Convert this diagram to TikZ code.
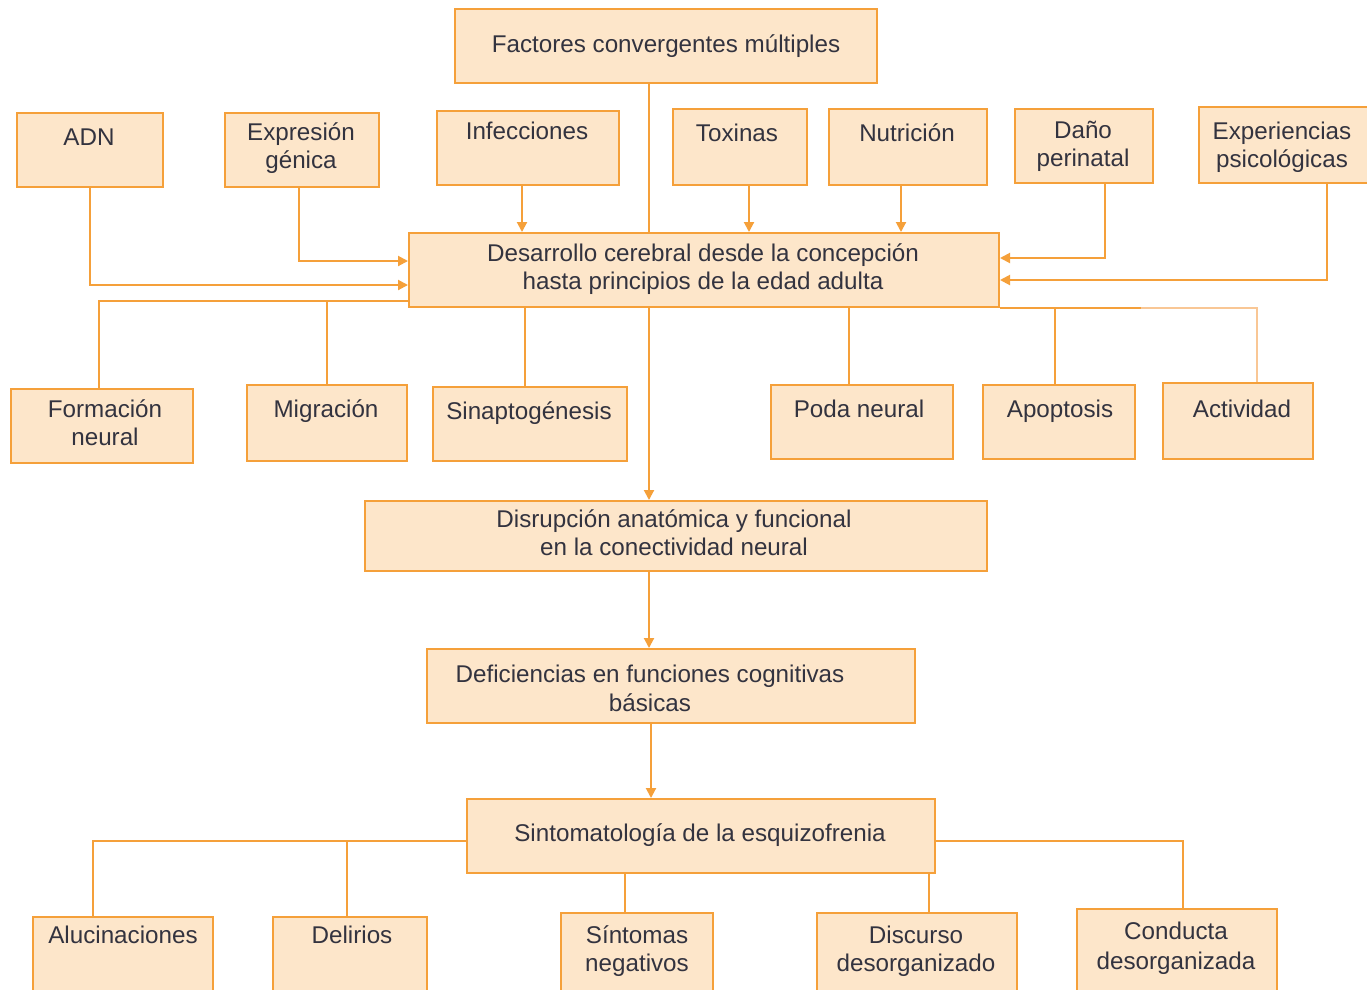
\documentclass[tikz,border=0pt]{standalone}
\usepackage{fontspec}
\setmainfont{Liberation Sans}
\usetikzlibrary{arrows.meta,fit}

\definecolor{boxfill}{HTML}{FDE6CA}
\definecolor{boxline}{HTML}{F5A03A}
\definecolor{fadeline}{HTML}{F9C795}
\definecolor{txtc}{HTML}{33333F}

\newcommand{\lblfont}{\fontsize{24.2}{28}\selectfont}

\tikzset{
  box/.style={draw=boxline, fill=boxfill, line width=2pt, inner sep=0pt, rectangle},
  lbl/.style={anchor=base, inner sep=0pt, text=txtc, font=\lblfont},
  conn/.style={draw=boxline, line width=2pt},
  arr/.style={conn, -{Triangle[length=10pt,width=10pt]}},
  faded/.style={draw=fadeline, line width=2pt},
}

\begin{document}
\begin{tikzpicture}[x=1pt,y=-1pt]
\useasboundingbox (0,0) rectangle (1367,989);
\clip (0,0) rectangle (1367,989);
\fill[white] (0,0) rectangle (1367,989);

% ---- boxes ----
\node[box, fit={(455,9) (877,83)}] (fact) {};
\node[box, fit={(17,113) (163,187)}] (adn) {};
\node[box, fit={(225,113) (379,187)}] (expr) {};
\node[box, fit={(437,111) (619,185)}] (inf) {};
\node[box, fit={(673,109) (807,185)}] (tox) {};
\node[box, fit={(829,109) (987,185)}] (nut) {};
\node[box, fit={(1015,109) (1153,183)}] (dano) {};
\node[box, fit={(1199,107) (1385,183)}] (expp) {};
\node[box, fit={(409,233) (999,307)}] (des) {};
\node[box, fit={(11,389) (193,463)}] (form) {};
\node[box, fit={(247,385) (407,461)}] (mig) {};
\node[box, fit={(433,387) (627,461)}] (sin) {};
\node[box, fit={(771,385) (953,459)}] (poda) {};
\node[box, fit={(983,385) (1135,459)}] (apo) {};
\node[box, fit={(1163,383) (1313,459)}] (act) {};
\node[box, fit={(365,501) (987,571)}] (dis) {};
\node[box, fit={(427,649) (915,723)}] (def) {};
\node[box, fit={(467,799) (935,873)}] (sint) {};
\node[box, fit={(33,917) (213,1010)}] (aluc) {};
\node[box, fit={(273,917) (427,1010)}] (del) {};
\node[box, fit={(561,913) (713,1010)}] (sneg) {};
\node[box, fit={(817,913) (1017,1010)}] (disc) {};
\node[box, fit={(1077,909) (1277,1010)}] (cond) {};

% ---- labels ----
\node[lbl] (t-fact) at (666,52) {Factores convergentes múltiples};
\node[lbl] (t-adn) at (89,145) {ADN};
\node[lbl] (t-expr1) at (301,140) {Expresión};
\node[lbl] (t-expr2) at (301,168) {génica};
\node[lbl] (t-inf) at (527,139) {Infecciones};
\node[lbl] (t-tox) at (737,141) {Toxinas};
\node[lbl] (t-nut) at (907,141) {Nutrición};
\node[lbl] (t-dano1) at (1083,138) {Daño};
\node[lbl] (t-dano2) at (1083,166) {perinatal};
\node[lbl] (t-exp1) at (1282,139) {Experiencias};
\node[lbl] (t-exp2) at (1282,167) {psicológicas};
\node[lbl] (t-des1) at (703,261) {Desarrollo cerebral desde la concepción};
\node[lbl] (t-des2) at (703,289) {hasta principios de la edad adulta};
\node[lbl] (t-form1) at (105,417) {Formación};
\node[lbl] (t-form2) at (105,445) {neural};
\node[lbl] (t-mig) at (326,417) {Migración};
\node[lbl] (t-sin) at (529,419) {Sinaptogénesis};
\node[lbl] (t-poda) at (859,417) {Poda neural};
\node[lbl] (t-apo) at (1060,417) {Apoptosis};
\node[lbl] (t-act) at (1242,417) {Actividad};
\node[lbl] (t-dis1) at (674,527) {Disrupción anatómica y funcional};
\node[lbl] (t-dis2) at (674,555) {en la conectividad neural};
\node[lbl] (t-def1) at (650,682) {Deficiencias en funciones cognitivas};
\node[lbl] (t-def2) at (650,711) {básicas};
\node[lbl] (t-sint) at (700,841) {Sintomatología de la esquizofrenia};
\node[lbl] (t-aluc) at (123,943) {Alucinaciones};
\node[lbl] (t-del) at (352,943) {Delirios};
\node[lbl] (t-sneg1) at (637,943) {Síntomas};
\node[lbl] (t-sneg2) at (637,971) {negativos};
\node[lbl] (t-disc1) at (916,943) {Discurso};
\node[lbl] (t-disc2) at (916,971) {desorganizado};
\node[lbl] (t-cond1) at (1176,939) {Conducta};
\node[lbl] (t-cond2) at (1176,969) {desorganizada};

% ---- factors feeding brain development ----
\draw[conn] ([xshift=-17pt]fact.south) -- ([xshift=-17pt]fact.south |- des.north);
\draw[arr] (adn.south) |- ([yshift=-15pt]des.west);
\draw[arr] ([xshift=-3pt]expr.south) |- ([yshift=9pt]des.west);
\draw[arr] ([xshift=-6pt]inf.south) -- ([xshift=-6pt]inf.south |- des.north);
\draw[arr] ([xshift=9pt]tox.south) -- ([xshift=9pt]tox.south |- des.north);
\draw[arr] ([xshift=-7pt]nut.south) -- ([xshift=-7pt]nut.south |- des.north);
\draw[arr] ([xshift=21pt]dano.south) |- ([yshift=12pt]des.east);
\draw[arr] ([xshift=35pt]expp.south) |- ([yshift=-10pt]des.east);

% ---- developmental processes ----
\coordinate (lb) at ([yshift=-31pt]des.west);
\draw[conn] (lb) -| ([xshift=-3pt]form.north);
\draw[conn] (mig.north) -- (mig.north |- lb);
\draw[conn] ([xshift=-5pt]sin.north) -- ([xshift=-5pt]sin.north |- des.south);
\draw[conn] ([xshift=-13pt]poda.north) -- ([xshift=-13pt]poda.north |- des.south);
\draw[conn] ([xshift=-4pt]apo.north) -- ([xshift=-4pt]apo.north |- des.south);
\coordinate (fadept) at ([xshift=141pt]des.south east);
\draw[conn] (des.south east) -- (fadept);
\draw[faded] (fadept) -| ([xshift=19pt]act.north);

% ---- main chain ----
\draw[arr] ([xshift=-27pt]dis.north |- des.south) -- ([xshift=-27pt]dis.north);
\draw[arr] ([xshift=-22pt]def.north |- dis.south) -- ([xshift=-22pt]def.north);
\draw[arr] ([xshift=-50pt]sint.north |- def.south) -- ([xshift=-50pt]sint.north);

% ---- symptoms ----
\coordinate (sl) at ([yshift=-5pt]sint.west);
\coordinate (sr) at ([yshift=-5pt]sint.east);
\draw[conn] (sl) -| ([xshift=-30pt]aluc.north);
\draw[conn] ([xshift=-3pt]del.north) -- ([xshift=-3pt]del.north |- sl);
\draw[conn] ([xshift=-12pt]sneg.north) -- ([xshift=-12pt]sneg.north |- sint.south);
\draw[conn] ([xshift=12pt]disc.north) -- ([xshift=12pt]disc.north |- sint.south);
\draw[conn] (sr) -| ([xshift=6pt]cond.north);
\end{tikzpicture}
\end{document}
